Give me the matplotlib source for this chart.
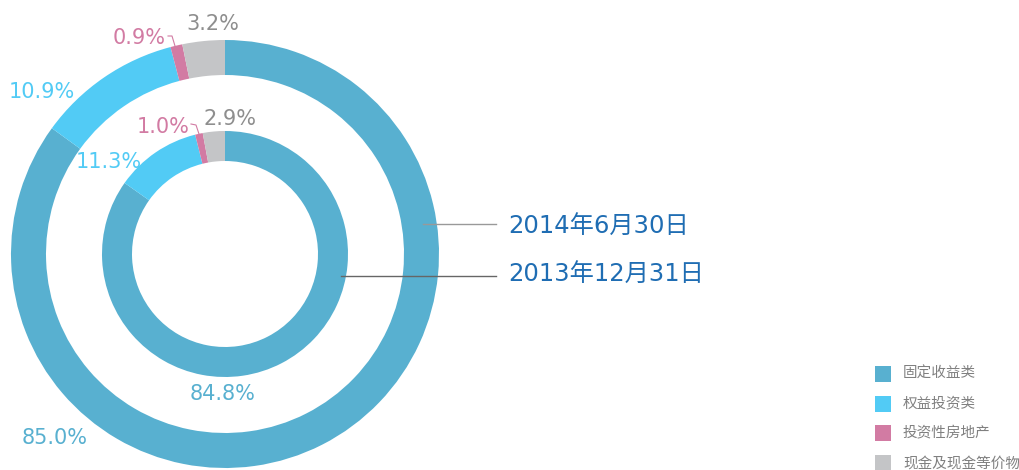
import matplotlib
matplotlib.use('Agg')
import matplotlib.pyplot as plt
from matplotlib.patches import Rectangle

plt.rcParams['font.family'] = ['DejaVu Sans', 'Noto Sans CJK SC']

# data
categories = ['固定收益类', '权益投资类', '投资性房地产', '现金及现金等价物']
vals_2014h1 = [85.0, 10.9, 0.9, 3.2]   # 外环 2014年6月30日
vals_2013 = [84.8, 11.3, 1.0, 2.9]     # 内环 2013年12月31日
ring_names = ['2014年6月30日', '2013年12月31日']

colors = ['#58b0d0', '#52cbf5', '#d27ba3', '#c4c5c7']
lbl_colors = ['#58b0d0', '#52cbf5', '#d27ba3', '#8e8e8e']

# layout (pixel coords, y pointing down)
cx, cy = 225, 254
outer_pos = [(55, 438), (42, 92), (139, 38), (213, 24)]
inner_pos = [(223, 394), (109, 162), (163, 127), (230, 119)]

fig = plt.figure(figsize=(10.19, 4.70), dpi=100)
ax = fig.add_axes([0, 0, 1, 1])

ax.pie(vals_2014h1, colors=colors, radius=214, center=(cx, cy), startangle=-90,
       counterclock=True, wedgeprops=dict(width=35, linewidth=0), frame=True)
ax.pie(vals_2013, colors=colors, radius=123, center=(cx, cy), startangle=-90,
       counterclock=True, wedgeprops=dict(width=30, linewidth=0), frame=True)

for vals, pos in [(vals_2014h1, outer_pos), (vals_2013, inner_pos)]:
    for v, (x, y), c in zip(vals, pos, lbl_colors):
        ax.text(x, y, f'{v:.1f}%', color=c, fontsize=15, ha='center', va='center', zorder=1)

# small leader lines for tiny slices
ax.plot([168, 172, 175], [36, 36, 46], color='#d27ba3', lw=0.8)
ax.plot([191, 196, 199], [124, 125, 134], color='#d27ba3', lw=0.8)

# ring annotations
ax.plot([423, 496], [224, 224], color='#999999', lw=1)
ax.plot([341, 496], [276, 276], color='#666666', lw=1)
ax.text(508, 227, ring_names[0], color='#1f6db3', fontsize=17.5, ha='left', va='center')
ax.text(508, 275, ring_names[1], color='#1f6db3', fontsize=17.5, ha='left', va='center')

# legend
for i, (name, c) in enumerate(zip(categories, colors)):
    y = 366 + i * 29.7
    ax.add_patch(Rectangle((875, y), 16, 16, color=c, lw=0))
    ax.text(903, y + 8, name, color='#808080', fontsize=10.5, ha='left', va='center',
            family=['Noto Sans CJK SC', 'DejaVu Sans'])

ax.set_xlim(0, 1019)
ax.set_ylim(470, 0)
ax.set_aspect('equal')
ax.axis('off')

fig.savefig('out.png', dpi=100, facecolor='white')
